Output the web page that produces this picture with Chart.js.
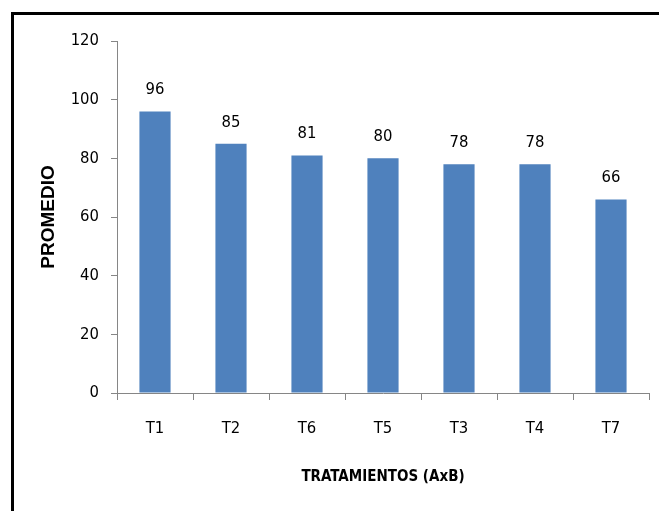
<!DOCTYPE html>
<html>
<head>
<meta charset="utf-8">
<script src="https://cdn.jsdelivr.net/npm/chart.js@4/dist/chart.umd.min.js"></script>
<style>
  html, body { margin: 0; padding: 0; background: #fff; }
  #wrap { position: relative; width: 659px; height: 511px; overflow: hidden; }
  #frame { position: absolute; left: 11px; top: 12px; width: 700px; height: 600px;
           border-left: 3px solid #000; border-top: 3px solid #000; box-sizing: border-box; }
  #box { position: absolute; left: 0; top: 0; width: 659px; height: 511px; }
</style>
</head>
<body>
<div id="wrap">
  <div id="frame"></div>
  <div id="box"><canvas id="c"></canvas></div>
</div>
<script>
const categories = ['T1', 'T2', 'T6', 'T5', 'T3', 'T4', 'T7'];
const promedio = [96, 85, 81, 80, 78, 78, 66];
const yTicks = [0, 20, 40, 60, 80, 100, 120];
const xTitle = 'TRATAMIENTOS (AxB)';
const yTitle = 'PROMEDIO';

const narrow = "'Liberation Sans Narrow', 'DejaVu Sans Condensed', 'Liberation Sans', sans-serif";
const wide = "'Liberation Sans', Arial, sans-serif";
const axisGray = '#868686';

const dataLabels = {
  id: 'dataLabels',
  afterDatasetsDraw(chart) {
    const ctx = chart.ctx;
    const meta = chart.getDatasetMeta(0);
    ctx.save();
    ctx.font = '16.5px ' + narrow;
    ctx.fillStyle = '#000';
    ctx.textAlign = 'center';
    ctx.textBaseline = 'alphabetic';
    meta.data.forEach((bar, i) => {
      ctx.fillText(String(chart.data.datasets[0].data[i]), bar.x, bar.y - 17);
    });
    ctx.restore();
  }
};

new Chart(document.getElementById('c'), {
  type: 'bar',
  data: {
    labels: categories,
    datasets: [{
      data: promedio,
      backgroundColor: '#4F81BD',
      borderWidth: 0,
      categoryPercentage: 1,
      barPercentage: 0.41
    }]
  },
  options: {
    responsive: true,
    maintainAspectRatio: false,
    animation: false,
    devicePixelRatio: 1,
    layout: { padding: { left: 37, top: 41, right: 10, bottom: 25 } },
    plugins: { legend: { display: false }, tooltip: { enabled: false } },
    scales: {
      x: {
        offset: true,
        grid: { offset: true, drawOnChartArea: false, drawTicks: true, tickLength: 7, color: axisGray },
        border: { display: true, color: axisGray, width: 1 },
        ticks: { color: '#000', font: { family: narrow, size: 16.5 }, padding: 19, maxRotation: 0 },
        title: { display: true, text: xTitle, color: '#000', padding: 0,
                 font: { family: narrow, size: 15, weight: 'bold', lineHeight: 1.2 } },
        afterFit(scale) { scale.height = 93; }
      },
      y: {
        min: 0, max: 120,
        afterBuildTicks(scale) { scale.ticks = yTicks.map(v => ({ value: v })); },
        grid: { drawOnChartArea: false, drawTicks: true, tickLength: 6, color: axisGray },
        border: { display: true, color: axisGray, width: 1 },
        ticks: { color: '#000', font: { family: narrow, size: 16.5 }, padding: 12 },
        title: { display: true, text: yTitle, color: '#000', padding: 0,
                 font: { family: wide, size: 19, weight: 'bold', lineHeight: 1.2 } },
        afterFit(scale) { scale.width = 80; }
      }
    }
  },
  plugins: [dataLabels]
});
</script>
</body>
</html>
